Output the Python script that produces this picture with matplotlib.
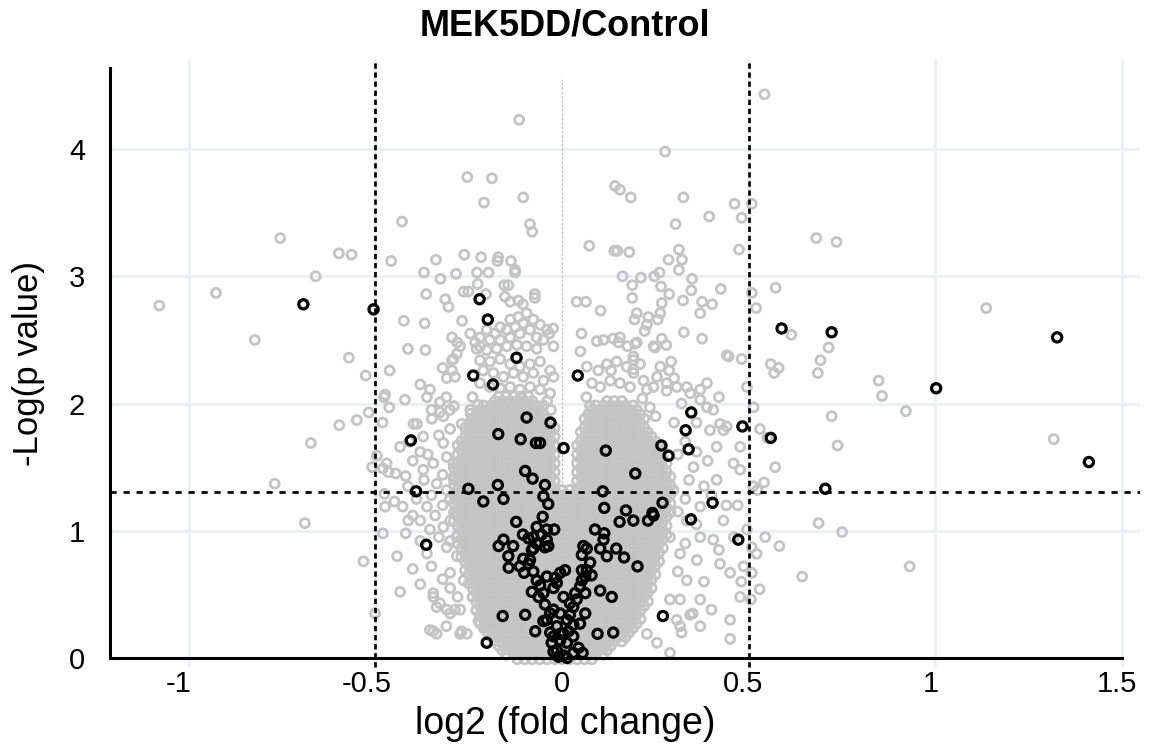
import matplotlib.pyplot as plt
from matplotlib.transforms import ScaledTranslation

plt.rcParams['font.family'] = ['Liberation Sans', 'DejaVu Sans']
plt.rcParams['axes.unicode_minus'] = False

title = "MEK5DD/Control"
x_label = "log2 (fold change)"
y_label = "-Log(p value)"
x_ticks = [-1, -0.5, 0, 0.5, 1, 1.5]
x_tick_labels = ["-1", "-0.5", "0", "0.5", "1", "1.5"]
y_ticks = [0, 1, 2, 3, 4]
y_tick_labels = ["0", "1", "2", "3", "4"]
grid_x = [-1, -0.5, 0.5, 1, 1.5]
grid_y = [1, 2, 3, 4]
fc_cut = 0.5      # |log2 FC| threshold
p_cut = 1.301     # -log10(0.05)

# grey proteins that can be picked out one by one (log2 FC, -log p)
grey_pts = [
    (-1.079, 2.77), (-0.927, 2.87), (-0.823, 2.50), (-0.755, 3.30), (-0.770, 1.37),
    (-0.689, 1.06), (-0.673, 1.69), (-0.660, 3.00), (-0.598, 3.18), (-0.564, 3.17),
    (-0.571, 2.36), (-0.526, 2.22), (-0.532, 0.76), (-0.501, 0.35), (-0.458, 3.12),
    (-0.429, 3.43), (-0.424, 2.65), (-0.413, 2.43), (-0.462, 2.26), (-0.477, 2.05),
    (-0.463, 1.97), (-0.518, 1.93), (-0.550, 1.87), (-0.597, 1.83), (-0.481, 1.85),
    (-0.421, 2.03), (-0.496, 1.59), (-0.509, 1.50), (-0.480, 1.49), (-0.465, 1.46),
    (-0.446, 1.45), (-0.419, 1.43), (-0.413, 1.35), (-0.476, 1.29), (-0.449, 1.23),
    (-0.427, 1.19), (-0.412, 1.08), (-0.480, 0.98), (-0.419, 0.98), (-0.442, 0.80),
    (-0.434, 0.52),
    (0.542, 4.43), (0.508, 3.57), (0.681, 3.30), (0.735, 3.27), (0.572, 2.91),
    (0.508, 2.87), (0.520, 2.75), (1.136, 2.75), (0.614, 2.54), (0.714, 2.44),
    (0.692, 2.34), (0.685, 2.24), (0.559, 2.31), (0.580, 2.28), (0.568, 2.24),
    (0.848, 2.18), (0.857, 2.06), (0.513, 1.97), (0.921, 1.94), (0.722, 1.90),
    (0.530, 1.80), (0.550, 1.73), (0.738, 1.67), (1.317, 1.72), (0.571, 1.50),
    (0.541, 1.38), (0.523, 1.32), (0.687, 1.06), (0.750, 0.99), (0.544, 0.95),
    (0.582, 0.88), (0.508, 0.87), (0.931, 0.72), (0.508, 0.67), (0.643, 0.64),
    (0.529, 0.54), (0.506, 0.46),
    (-0.115, 4.23), (0.276, 3.98), (-0.254, 3.78), (-0.188, 3.77), (-0.209, 3.58),
    (-0.104, 3.62), (0.142, 3.71), (0.155, 3.68), (0.184, 3.62), (0.325, 3.62),
    (0.462, 3.57), (0.481, 3.46), (0.394, 3.47), (0.304, 3.41), (-0.086, 3.41),
    (-0.080, 3.35), (-0.338, 3.13), (-0.262, 3.17), (-0.217, 3.15), (-0.171, 3.15),
    (-0.173, 3.12), (-0.137, 3.12), (0.073, 3.24), (0.140, 3.20), (0.148, 3.20),
    (0.180, 3.19), (0.313, 3.21), (0.285, 3.13), (0.321, 3.13), (0.313, 3.05),
    (0.474, 3.21), (-0.370, 3.03), (-0.326, 2.98), (-0.284, 3.02), (-0.228, 3.03),
    (-0.226, 2.94), (-0.197, 3.03), (-0.155, 2.93), (-0.144, 2.93), (-0.126, 3.03),
    (-0.126, 3.05), (-0.364, 2.86), (-0.313, 2.82), (-0.304, 2.76), (-0.264, 2.88),
    (-0.251, 2.88), (-0.204, 2.86), (-0.073, 2.86), (-0.073, 2.83), (-0.105, 2.78),
    (-0.368, 2.63), (-0.268, 2.65), (-0.366, 2.42), (-0.295, 2.52), (-0.281, 2.48),
    (-0.273, 2.45), (-0.246, 2.55), (-0.233, 2.48), (-0.220, 2.45), (-0.295, 2.34),
    (-0.282, 2.39), (-0.295, 2.26), (-0.024, 2.59), (-0.023, 2.45), (-0.034, 2.55),
    (0.039, 2.80), (0.064, 2.80), (0.103, 2.73), (0.052, 2.55), (0.049, 2.41),
    (0.162, 3.00), (0.188, 2.93), (0.211, 2.99), (0.247, 3.00), (0.261, 3.03),
    (0.265, 2.92), (0.287, 2.86), (0.188, 2.83), (0.200, 2.71), (0.194, 2.66),
    (0.267, 2.79), (0.263, 2.71), (0.256, 2.66), (0.227, 2.62), (0.221, 2.57),
    (0.324, 2.81), (0.346, 2.89), (0.348, 2.98), (0.375, 2.80), (0.402, 2.78),
    (0.370, 2.71), (0.425, 2.90), (0.326, 2.56), (0.375, 2.51), (0.441, 2.38),
    (0.481, 2.35), (0.111, 2.50), (0.137, 2.51), (0.151, 2.48), (0.175, 2.45),
    (0.200, 2.48), (0.249, 2.44), (0.267, 2.51), (0.279, 2.46), (0.292, 2.33),
    (0.287, 2.26), (0.263, 2.29), (0.146, 2.33), (0.191, 2.34), (0.191, 2.27),
    (0.131, 2.26), (0.097, 2.26),
    (-0.354, 2.11), (-0.327, 2.01), (-0.300, 1.95), (-0.362, 2.05), (-0.389, 1.84),
    (-0.349, 1.88), (-0.318, 1.90), (-0.269, 1.84), (-0.246, 1.95), (-0.291, 2.35),
    (-0.309, 2.20), (-0.287, 2.21), (-0.474, 2.07), (-0.327, 1.93), (-0.398, 1.84),
    (-0.372, 1.74), (-0.470, 1.53), (-0.372, 1.48), (-0.345, 1.53), (-0.309, 1.58),
    (-0.474, 1.19), (-0.380, 1.08), (-0.354, 1.01), (-0.318, 1.03), (-0.282, 0.95),
    (-0.362, 0.82), (-0.309, 0.87), (-0.282, 0.80), (-0.345, 0.51), (-0.327, 0.43),
    (-0.300, 0.35), (-0.273, 0.38), (-0.354, 0.22), (-0.336, 0.19), (-0.273, 0.19),
    (-0.255, 0.19), (-0.300, 0.67), (-0.264, 0.61), (-0.362, 1.19), (-0.336, 1.37),
    (-0.309, 1.32), (-0.282, 1.14), (-0.434, 1.66), (-0.380, 1.62), (-0.318, 1.69),
    (-0.291, 1.53), (-0.345, 0.48), (-0.336, 0.40), (-0.309, 0.38), (-0.287, 0.38),
    (-0.345, 0.21), (-0.269, 0.21), (-0.224, 0.29), (-0.206, 0.26),
    (-0.40, 1.55), (-0.36, 1.60), (-0.33, 1.75), (-0.30, 1.80), (-0.39, 1.25),
    (-0.35, 1.28), (-0.32, 1.20), (-0.40, 1.12), (-0.34, 1.12), (-0.30, 1.08),
    (-0.38, 0.92), (-0.33, 0.95), (-0.30, 0.92), (-0.40, 0.70), (-0.35, 0.72),
    (-0.32, 0.62), (-0.38, 0.58), (-0.30, 0.55), (-0.31, 0.25), (-0.28, 0.48),
    (-0.37, 1.40), (-0.32, 1.44), (-0.29, 1.40), (-0.41, 1.70), (-0.35, 1.95),
    (-0.31, 2.05), (-0.29, 1.98), (-0.38, 2.15), (-0.32, 2.28),
    (0.388, 2.16), (0.405, 1.95), (0.441, 1.82), (0.370, 2.03), (0.414, 1.66),
    (0.459, 1.53), (0.477, 1.48), (0.414, 1.40), (0.432, 1.08), (0.512, 1.35),
    (0.423, 0.74), (0.450, 0.67), (0.486, 0.72), (0.477, 0.48), (0.316, 0.82),
    (0.361, 0.77), (0.334, 0.61), (0.289, 0.46), (0.316, 0.46), (0.370, 0.46),
    (0.307, 0.30), (0.370, 0.25), (0.450, 0.15), (0.289, 0.04), (0.334, 1.08),
    (0.370, 1.19), (0.298, 1.32), (0.352, 1.50), (0.396, 1.79), (0.477, 1.66),
    (0.495, 2.13), (0.495, 1.01), (0.521, 0.82), (0.405, 0.93), (0.289, 0.95),
    (0.370, 0.95), (0.334, 2.13), (0.343, 2.08), (0.370, 2.11), (0.388, 1.97),
    (0.423, 1.84), (0.432, 1.79), (0.446, 2.37), (0.227, 0.19), (0.254, 0.12),
    (0.316, 0.25), (0.343, 0.34),
    (0.33, 1.70), (0.36, 1.62), (0.31, 1.60), (0.39, 1.55), (0.34, 1.40),
    (0.38, 1.35), (0.33, 1.25), (0.40, 1.28), (0.36, 1.05), (0.31, 1.15),
    (0.44, 1.20), (0.33, 0.90), (0.42, 0.85), (0.38, 0.60), (0.31, 0.68),
    (0.35, 0.35), (0.32, 0.20), (0.40, 0.38), (0.45, 0.30), (0.30, 1.85),
    (0.32, 2.00), (0.36, 1.85), (0.28, 2.10), (0.30, 2.20), (0.42, 2.05),
    (0.47, 1.20), (0.46, 0.95), (0.48, 0.60),
    (-0.153, 2.84), (-0.139, 2.80), (-0.117, 2.81), (-0.095, 2.71), (-0.117, 2.68),
    (-0.139, 2.66), (-0.166, 2.60), (-0.179, 2.55), (-0.148, 2.58), (-0.126, 2.60),
    (-0.104, 2.63), (-0.077, 2.66), (-0.059, 2.62), (-0.041, 2.58), (-0.202, 2.58),
    (-0.220, 2.52), (-0.193, 2.50), (-0.166, 2.50), (-0.139, 2.52), (-0.113, 2.55),
    (-0.086, 2.58), (-0.068, 2.52), (-0.050, 2.50), (-0.229, 2.43), (-0.202, 2.42),
    (-0.175, 2.43), (-0.148, 2.45), (-0.121, 2.46), (-0.095, 2.45), (-0.068, 2.43),
    (-0.220, 2.34), (-0.193, 2.33), (-0.166, 2.35), (-0.139, 2.31), (-0.113, 2.29),
    (-0.086, 2.31), (-0.059, 2.33), (-0.032, 2.26), (-0.023, 2.21), (-0.211, 2.26),
    (-0.184, 2.24), (-0.157, 2.21), (-0.130, 2.24), (-0.104, 2.21), (-0.077, 2.24),
    (-0.050, 2.18), (-0.220, 2.16), (-0.193, 2.13), (-0.166, 2.12), (-0.139, 2.13),
    (-0.113, 2.11), (-0.086, 2.13), (-0.059, 2.11), (-0.032, 2.08),
    (-0.240, 2.05), (-0.225, 1.99), (-0.040, 2.02), (-0.030, 1.95), (-0.245, 1.92),
    (0.093, 2.49), (0.155, 2.52), (0.196, 2.47), (0.209, 2.31), (0.191, 2.37),
    (0.245, 2.45), (0.254, 2.21), (0.245, 2.13), (0.227, 2.11), (0.280, 2.16),
    (0.307, 2.13), (0.066, 2.29), (0.120, 2.31), (0.173, 2.29), (0.191, 2.24),
    (0.218, 2.18), (0.080, 2.16), (0.102, 2.13), (0.129, 2.18), (0.155, 2.16),
    (0.182, 2.13), (0.231, 2.68),
    (0.065, 2.05), (0.075, 1.98), (0.215, 2.04), (0.235, 1.97), (0.250, 1.90),
]

# solid grey mass in the middle: one row per -log p level, log2 FC in hundredths
dense_rows = [
    (-0.010, "-12 -10 -8 -6 -4 -2 0 2 4 6 8"),
    (0.025, "-15 -13 -11 -9 -7 -5 -3 -1 1 3 5 7 9 11"),
    (0.060, "-16 -14 -12 -10 -8 -6 -4 -2 0 2 4 6 8 10 12"),
    (0.095, "-17 -15 -13 -11 -9 -7 -5 -3 -1 1 3 5 7 9 11 13"),
    (0.130, "-18 -16 -14 -12 -10 -8 -6 -4 -2 0 2 4 6 8 10 12 14 16"),
    (0.165, "-19 -17 -15 -13 -11 -9 -7 -5 -3 -1 1 3 5 7 9 11 13 15 17"),
    (0.200, "-20 -18 -16 -14 -12 -10 -8 -6 -4 -2 0 2 4 6 8 10 12 14 16 18"),
    (0.235, "-21 -19 -17 -15 -13 -11 -9 -7 -5 -3 -1 1 3 5 7 9 11 13 15 17 19"),
    (0.270, "-22 -20 -18 -16 -14 -12 -10 -8 -6 -4 -2 0 2 4 6 8 10 12 14 16 18 20"),
    (0.305, "-21 -19 -17 -15 -13 -11 -9 -7 -5 -3 -1 1 3 5 7 9 11 13 15 17 19 21"),
    (0.340, "-22 -20 -18 -16 -14 -12 -10 -8 -6 -4 -2 0 2 4 6 8 10 12 14 16 18 20"),
    (0.375, "-23 -21 -19 -17 -15 -13 -11 -9 -7 -5 -3 -1 1 3 5 7 9 11 13 15 17 19 21"),
    (0.410, "-22 -20 -18 -16 -14 -12 -10 -8 -6 -4 -2 0 2 4 6 8 10 12 14 16 18 20 22"),
    (0.445, "-23 -21 -19 -17 -15 -13 -11 -9 -7 -5 -3 -1 1 3 5 7 9 11 13 15 17 19 21 23"),
    (0.480, "-24 -22 -20 -18 -16 -14 -12 -10 -8 -6 -4 -2 0 2 4 6 8 10 12 14 16 18 20 22"),
    (0.515, "-23 -21 -19 -17 -15 -13 -11 -9 -7 -5 -3 -1 1 3 5 7 9 11 13 15 17 19 21 23"),
    (0.550, "-24 -22 -20 -18 -16 -14 -12 -10 -8 -6 -4 -2 0 2 4 6 8 10 12 14 16 18 20 22 24"),
    (0.585, "-25 -23 -21 -19 -17 -15 -13 -11 -9 -7 -5 -3 -1 1 3 5 7 9 11 13 15 17 19 21 23"),
    (0.620, "-24 -22 -20 -18 -16 -14 -12 -10 -8 -6 -4 -2 0 2 4 6 8 10 12 14 16 18 20 22 24"),
    (0.655, "-25 -23 -21 -19 -17 -15 -13 -11 -9 -7 -5 -3 -1 1 3 5 7 9 11 13 15 17 19 21 23 25"),
    (0.690, "-26 -24 -22 -20 -18 -16 -14 -12 -10 -8 -6 -4 -2 0 2 4 6 8 10 12 14 16 18 20 22 24"),
    (0.725, "-25 -23 -21 -19 -17 -15 -13 -11 -9 -7 -5 -3 -1 1 3 5 7 9 11 13 15 17 19 21 23 25"),
    (0.760, "-26 -24 -22 -20 -18 -16 -14 -12 -10 -8 -6 -4 -2 0 2 4 6 8 10 12 14 16 18 20 22 24 26"),
    (0.795, "-27 -25 -23 -21 -19 -17 -15 -13 -11 -9 -7 -5 -3 -1 1 3 5 7 9 11 13 15 17 19 21 23 25"),
    (0.830, "-26 -24 -22 -20 -18 -16 -14 -12 -10 -8 -6 -4 -2 0 2 4 6 8 10 12 14 16 18 20 22 24 26"),
    (0.865, "-27 -25 -23 -21 -19 -17 -15 -13 -11 -9 -7 -5 -3 -1 1 3 5 7 9 11 13 15 17 19 21 23 25 27"),
    (0.900, "-28 -26 -24 -22 -20 -18 -16 -14 -12 -10 -8 -6 -4 -2 0 2 4 6 8 10 12 14 16 18 20 22 24 26"),
    (0.935, "-27 -25 -23 -21 -19 -17 -15 -13 -11 -9 -7 -5 -3 -1 1 3 5 7 9 11 13 15 17 19 21 23 25 27"),
    (0.970, "-28 -26 -24 -22 -20 -18 -16 -14 -12 -10 -8 -6 -4 -2 0 2 4 6 8 10 12 14 16 18 20 22 24 26 28"),
    (1.005, "-27 -25 -23 -21 -19 -17 -15 -13 -11 -9 -7 -5 -3 -1 1 3 5 7 9 11 13 15 17 19 21 23 25 27"),
    (1.040, "-28 -26 -24 -22 -20 -18 -16 -14 -12 -10 -8 -6 -4 -2 0 2 4 6 8 10 12 14 16 18 20 22 24 26 28"),
    (1.075, "-29 -27 -25 -23 -21 -19 -17 -15 -13 -11 -9 -7 -5 -3 -1 1 3 5 7 9 11 13 15 17 19 21 23 25 27"),
    (1.110, "-28 -26 -24 -22 -20 -18 -16 -14 -12 -10 -8 -6 -4 -2 0 2 4 6 8 10 12 14 16 18 20 22 24 26 28"),
    (1.145, "-29 -27 -25 -23 -21 -19 -17 -15 -13 -11 -9 -7 -5 -3 -1 1 3 5 7 9 11 13 15 17 19 21 23 25 27 29"),
    (1.180, "-28 -26 -24 -22 -20 -18 -16 -14 -12 -10 -8 -6 -4 -2 0 2 4 6 8 10 12 14 16 18 20 22 24 26 28"),
    (1.215, "-29 -27 -25 -23 -21 -19 -17 -15 -13 -11 -9 -7 -5 -3 -1 1 3 5 7 9 11 13 15 17 19 21 23 25 27 29"),
    (1.250, "-30 -28 -26 -24 -22 -20 -18 -16 -14 -12 -10 -8 -6 -4 -2 0 2 4 6 8 10 12 14 16 18 20 22 24 26 28"),
    (1.285, "-29 -27 -25 -23 -21 -19 -17 -15 -13 -11 -9 -7 -5 -3 -1 1 3 5 7 9 11 13 15 17 19 21 23 25 27 29"),
    (1.320, "-28 -26 -24 -22 -20 -18 -16 -14 -12 -10 -8 -6 -4 -2 0 2 4 6 8 10 12 14 16 18 20 22 24 26 28"),
    (1.355, "-29 -27 -25 -23 -21 -19 -17 -15 -13 -11 -9 -7 -5 -3 5 7 9 11 13 15 17 19 21 23 25 27 29"),
    (1.390, "-28 -26 -24 -22 -20 -18 -16 -14 -12 -10 -8 -6 -4 -2 4 6 8 10 12 14 16 18 20 22 24 26 28"),
    (1.425, "-29 -27 -25 -23 -21 -19 -17 -15 -13 -11 -9 -7 -5 -3 5 7 9 11 13 15 17 19 21 23 25 27 29"),
    (1.460, "-28 -26 -24 -22 -20 -18 -16 -14 -12 -10 -8 -6 -4 -2 4 6 8 10 12 14 16 18 20 22 24 26 28"),
    (1.495, "-29 -27 -25 -23 -21 -19 -17 -15 -13 -11 -9 -7 -5 -3 5 7 9 11 13 15 17 19 21 23 25 27"),
    (1.530, "-28 -26 -24 -22 -20 -18 -16 -14 -12 -10 -8 -6 -4 -2 4 6 8 10 12 14 16 18 20 22 24 26 28"),
    (1.565, "-27 -25 -23 -21 -19 -17 -15 -13 -11 -9 -7 -5 -3 5 7 9 11 13 15 17 19 21 23 25 27"),
    (1.600, "-28 -26 -24 -22 -20 -18 -16 -14 -12 -10 -8 -6 -4 -2 4 6 8 10 12 14 16 18 20 22 24 26"),
    (1.635, "-27 -25 -23 -21 -19 -17 -15 -13 -11 -9 -7 -5 -3 5 7 9 11 13 15 17 19 21 23 25 27"),
    (1.670, "-28 -26 -24 -22 -20 -18 -16 -14 -12 -10 -8 -6 -4 -2 4 6 8 10 12 14 16 18 20 22 24 26"),
    (1.705, "-27 -25 -23 -21 -19 -17 -15 -13 -11 -9 -7 -5 -3 5 7 9 11 13 15 17 19 21 23 25"),
    (1.740, "-26 -24 -22 -20 -18 -16 -14 -12 -10 -8 -6 -4 -2 6 8 10 12 14 16 18 20 22 24"),
    (1.775, "-25 -23 -21 -19 -17 -15 -13 -11 -9 -7 -5 -3 5 7 9 11 13 15 17 19 21 23"),
    (1.810, "-26 -24 -22 -20 -18 -16 -14 -12 -10 -8 -6 -4 -2 6 8 10 12 14 16 18 20 22"),
    (1.845, "-25 -23 -21 -19 -17 -15 -13 -11 -9 -7 -5 -3 7 9 11 13 15 17 19 21"),
    (1.880, "-24 -22 -20 -18 -16 -14 -12 -10 -8 -6 -4 6 8 10 12 14 16 18 20 22"),
    (1.915, "-23 -21 -19 -17 -15 -13 -11 -9 -7 -5 7 9 11 13 15 17 19 21"),
    (1.950, "-22 -20 -18 -16 -14 -12 -10 -8 -6 8 10 12 14 16 18 20"),
    (1.985, "-21 -19 -17 -15 -13 -11 -9 -7 -5 9 11 13 15 17 19"),
    (2.020, "-18 -16 -14 -12 -10 -8 12 14 16"),
    (2.055, "-17 -15 -13 -11 -9"),
]

# proteins highlighted in black
black_pts = [
    (-0.693, 2.78), (-0.505, 2.74), (0.588, 2.59), (0.722, 2.56), (1.326, 2.52),
    (1.002, 2.12), (1.411, 1.54), (0.705, 1.33), (0.559, 1.73), (0.483, 1.82),
    (0.472, 0.93), (-0.221, 2.82), (-0.199, 2.66), (-0.122, 2.36), (-0.238, 2.22),
    (0.042, 2.22), (-0.185, 2.15), (-0.095, 1.89), (-0.031, 1.85), (-0.171, 1.76),
    (-0.111, 1.72), (-0.070, 1.69), (-0.059, 1.69), (0.004, 1.65), (-0.405, 1.71),
    (0.346, 1.93), (0.331, 1.79), (0.266, 1.67), (0.339, 1.64), (0.117, 1.63),
    (0.285, 1.59), (0.196, 1.45), (-0.099, 1.47), (-0.079, 1.41), (-0.046, 1.36),
    (-0.050, 1.27), (-0.037, 1.21), (-0.391, 1.31), (-0.251, 1.33), (-0.172, 1.36),
    (-0.211, 1.23), (-0.157, 1.25), (0.109, 1.31), (0.113, 1.18), (0.403, 1.22),
    (0.269, 1.22), (0.171, 1.16), (0.191, 1.08), (0.154, 1.07), (0.230, 1.08),
    (0.242, 1.14), (0.245, 1.12), (0.345, 1.09), (-0.364, 0.89), (-0.123, 1.07),
    (-0.052, 1.11), (-0.068, 1.03), (-0.041, 1.01), (-0.021, 1.01), (-0.105, 0.97),
    (-0.090, 0.94), (-0.077, 0.95), (-0.041, 0.93), (-0.157, 0.93), (-0.170, 0.88),
    (-0.131, 0.88), (-0.144, 0.80), (-0.143, 0.71), (-0.104, 0.78), (-0.102, 0.67),
    (-0.090, 0.74), (-0.077, 0.68), (-0.046, 0.87), (-0.037, 0.88), (-0.055, 0.97),
    (-0.077, 0.86), (-0.068, 0.90), (-0.081, 0.85), (0.088, 1.01), (0.113, 0.98),
    (0.111, 0.93), (0.057, 0.88), (0.066, 0.86), (0.053, 0.81), (0.102, 0.86),
    (0.120, 0.80), (0.145, 0.86), (0.166, 0.79), (0.202, 0.72), (0.075, 0.75),
    (0.066, 0.69), (0.079, 0.65), (0.053, 0.61), (0.102, 0.53), (0.133, 0.48),
    (0.048, 0.56), (0.035, 0.51), (0.062, 0.51), (-0.081, 0.52), (-0.063, 0.48),
    (-0.050, 0.51), (-0.023, 0.55), (-0.014, 0.59), (-0.019, 0.63), (-0.005, 0.67),
    (0.008, 0.69), (-0.041, 0.64), (-0.059, 0.57), (-0.046, 0.42), (-0.023, 0.38),
    (-0.005, 0.35), (0.013, 0.30), (0.021, 0.34), (0.030, 0.26), (0.048, 0.27),
    (0.062, 0.35), (0.017, 0.21), (-0.005, 0.19), (-0.032, 0.20), (-0.028, 0.12),
    (-0.005, 0.14), (-0.014, 0.06), (0.004, 0.02), (0.013, 0.00), (0.030, 0.04),
    (0.044, 0.08), (0.055, 0.04), (-0.072, 0.21), (-0.050, 0.29), (0.004, 0.48),
    (0.021, 0.43), (-0.159, 0.33), (-0.099, 0.34), (-0.202, 0.12), (0.095, 0.19),
    (0.137, 0.20), (0.270, 0.33), (0.053, 0.69), (0.062, 0.64), (0.039, 0.46),
    (0.030, 0.40), (-0.032, 0.35), (-0.041, 0.30), (-0.014, 0.25), (0.004, 0.19),
    (-0.023, 0.17), (0.013, 0.12), (0.030, 0.17), (-0.010, 0.01), (-0.023, 0.05),
    (-0.113, 0.72), (-0.086, 0.77), (-0.068, 0.61),
]

gx = [p[0] for p in grey_pts]
gy = [p[1] for p in grey_pts]
for yv, row in dense_rows:
    for v in row.split():
        gx.append(int(v) / 100)
        gy.append(yv)
bx = [p[0] for p in black_pts]
by = [p[1] for p in black_pts]

fig = plt.figure(figsize=(11.5, 7.53), dpi=100)
ax = fig.add_axes([110 / 1150, 95 / 753, 1030 / 1150, 598 / 753])
ax.set_xlim(-1.211, 1.548)
ax.set_ylim(0, 4.70)

for v in grid_x:
    ax.axvline(v, ymin=-0.012, ymax=1, color='#eff0f3', lw=2.2, zorder=0, clip_on=False)
for v in grid_y:
    ax.axhline(v, color='#eff0f3', lw=2.2, zorder=0)

ax.axvline(0, ymin=0, ymax=0.968, color='#bdbdbd', lw=0.9, ls=(0, (2, 1.5)), zorder=1)

ax.scatter(gx, gy, s=42, facecolors='none', edgecolors='#c4c4c4', linewidths=2.0,
           zorder=2, clip_on=False)
ax.scatter(bx, by, s=44, facecolors='none', edgecolors='black', linewidths=2.3,
           zorder=3, clip_on=False)

for v in (-fc_cut, fc_cut):
    ax.axvline(v, ymin=-0.015, ymax=1, color='black', lw=1.95, ls=(0, (1.95, 1.4)),
               zorder=4, clip_on=False)
ax.axhline(p_cut, color='black', lw=1.95, ls=(0, (2.3, 2.5)), zorder=4)

for side in ('top', 'right'):
    ax.spines[side].set_visible(False)
ax.spines['left'].set_bounds(0, 4.64)
ax.spines['bottom'].set_bounds(-1.211, 1.5)
for side in ('left', 'bottom'):
    ax.spines[side].set_linewidth(2.2)
    ax.spines[side].set_zorder(5)

ax.set_xticks(x_ticks, x_tick_labels)
ax.set_yticks(y_ticks, y_tick_labels)
ax.tick_params(axis='both', length=0, labelsize=21)
ax.tick_params(axis='x', pad=9)
ax.tick_params(axis='y', pad=18)
# the original labels sit a little left of their ticks
for lbl, dx in zip(ax.get_xticklabels(), [-7, -6, 0, -4, -3, -4]):
    lbl.set_transform(lbl.get_transform() + ScaledTranslation(dx / 72, 0, fig.dpi_scale_trans))

fig.text(565 / 1150, 1 - 35 / 753, title, ha='center', va='baseline',
         fontsize=26, fontweight='bold')
fig.text(565 / 1150, 1 - 734 / 753, x_label, ha='center', va='baseline', fontsize=27)
fig.text(29 / 1150, 1 - 363 / 753, y_label, ha='center', va='center',
         rotation=90, fontsize=25)

fig.savefig('out.png', dpi=100)
